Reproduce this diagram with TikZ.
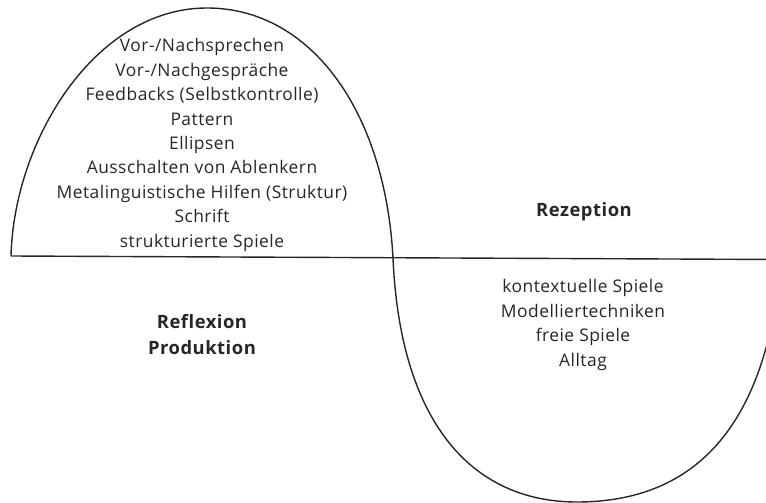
\documentclass[tikz,border=0pt]{standalone}
\usepackage{fontspec}
\setmainfont{Open Sans}[Ligatures=NoCommon, LetterSpace=2.8]
\begin{document}
\begin{tikzpicture}[x=1pt,y=-1pt,
  curve/.style={line width=1.4pt, black!85},
  txt/.style={align=center, inner sep=0pt, font=\fontsize{17.4}{24.4}\selectfont, text=black!85},
  lbl/.style={align=center, inner sep=0pt, font=\fontsize{18.4}{26}\selectfont\bfseries, text=black!85}]
\useasboundingbox (0,0) rectangle (766,503);
\clip (0,0) rectangle (766,503);
\coordinate (L) at (11,256);
\coordinate (R) at (780,259.5);
\coordinate (T) at (207,8);
\coordinate (X) at (393,258);
\coordinate (B) at (577,502);
\coordinate (E) at (780,270);
\draw[curve] (L) -- (R);
\draw[curve] (L) .. controls (14,140) and (95,8) .. (T)
  .. controls (310,8) and (385,110) .. (X)
  .. controls (400,420) and (470,502) .. (B)
  .. controls (700,502) and (765,420) .. (E);
\node[txt] (up) at (202,145) {Vor-/Nachsprechen\\Vor-/Nachgespräche\\Feedbacks (Selbstkontrolle)\\Pattern\\Ellipsen\\Ausschalten von Ablenkern\\Metalinguistische Hilfen (Struktur)\\Schrift\\strukturierte Spiele};
\node[txt] (low) at (583,325) {kontextuelle Spiele\\Modelliertechniken\\freie Spiele\\Alltag};
\node[lbl] (rez) at (584,212) {Rezeption};
\node[lbl] (ref) at (202,335) {Reflexion\\Produktion};
\end{tikzpicture}
\end{document}
